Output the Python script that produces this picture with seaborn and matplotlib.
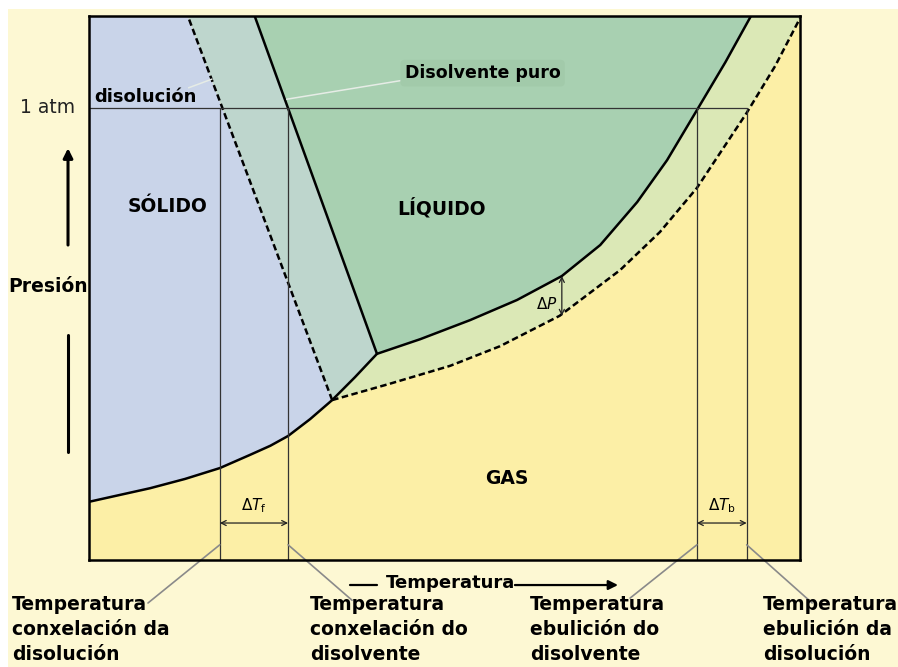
"""
Diagrama de fases: disolvente puro fronte a disolución.
"""

import matplotlib.pyplot as plt
from matplotlib.patches import Rectangle
import seaborn as sns
import numpy as np

sns.set_style("white")
plt.rcParams['font.family'] = ['DejaVu Sans']
plt.rcParams['text.color'] = 'black'

# Curvas (T e P en unidades arbitrarias, 0-100)
sub_T = [0.0, 8.6, 13.5, 18.4, 22.6, 25.5, 28.0, 31.1, 34.2, 37.4, 40.5]
sub_P = [10.7, 13.2, 14.9, 16.9, 19.3, 21.0, 22.8, 25.9, 29.4, 33.6, 37.9]
TRIPLE_DIS = 8  # punto triplo da disolución dentro de sub_*

fus_solv_T = [40.5, 23.3]
fus_solv_P = [37.9, 100.0]
fus_dis_T = [34.2, 13.9]
fus_dis_P = [29.4, 100.0]

vap_solv_T = [40.5, 46.6, 53.6, 60.2, 66.5, 71.9, 77.1, 81.3, 85.5, 89.5, 93.1]
vap_solv_P = [37.9, 40.6, 44.1, 47.8, 52.2, 57.9, 65.8, 73.5, 82.7, 91.5, 100.0]
vap_dis_T = [34.2, 42.3, 50.8, 57.8, 66.2, 74.7, 80.3, 85.5, 92.5, 96.5, 100.0]
vap_dis_P = [29.4, 32.4, 35.7, 39.3, 44.9, 53.3, 60.3, 68.4, 82.2, 90.8, 99.6]

p_atm = 83.1
t_fus = [18.4, 28.0]   # disolución, disolvente
t_ebu = [85.5, 92.5]   # disolvente, disolución
dp_T = 66.5
dp_P = [44.9, 52.2]

bottom_labels = ['Temperatura\nconxelación da\ndisolución',
                 'Temperatura\nconxelación do\ndisolvente',
                 'Temperatura\nebulición do\ndisolvente',
                 'Temperatura\nebulición da\ndisolución']

# colours
C_BG = '#fdf8d3'
C_GAS = '#fcefa6'
C_SOL = '#c9d4e9'
C_MIX = '#bed6cd'
C_LIQ = '#a8d0b1'
C_VAP = '#dbe8b6'


def poly(*parts):
    xs = np.concatenate([np.asarray(p[0], float) for p in parts])
    ys = np.concatenate([np.asarray(p[1], float) for p in parts])
    return xs, ys


fig = plt.figure(figsize=(8.98, 6.67), dpi=100)
fig.patch.set_facecolor('white')
fig.add_artist(Rectangle((0.009, 0), 1, 0.9865, transform=fig.transFigure,
                         fc=C_BG, ec='none', zorder=-10))

ax = fig.add_axes([0.0991, 0.1604, 0.7918, 0.8156])
ax.set_facecolor(C_GAS)
ax.set_xlim(0, 100)
ax.set_ylim(0, 100)
ax.set_xticks([])
ax.set_yticks([])
for s in ax.spines.values():
    s.set_linewidth(1.8)
    s.set_color('black')

k = TRIPLE_DIS
# regions
xs, ys = poly(([0], [100]), (fus_dis_T[::-1], fus_dis_P[::-1]),
              (sub_T[k::-1], sub_P[k::-1]))
ax.fill(xs, ys, color=C_SOL, lw=0)
xs, ys = poly((fus_solv_T[::-1], fus_solv_P[::-1]),
              (sub_T[:k - 1:-1], sub_P[:k - 1:-1]), (fus_dis_T, fus_dis_P))
ax.fill(xs, ys, color=C_MIX, lw=0)
xs, ys = poly((fus_solv_T[::-1], fus_solv_P[::-1]), (vap_solv_T, vap_solv_P))
ax.fill(xs, ys, color=C_LIQ, lw=0)
xs, ys = poly((vap_solv_T, vap_solv_P), ([100], [100]),
              (vap_dis_T[::-1], vap_dis_P[::-1]), (sub_T[k:], sub_P[k:]))
ax.fill(xs, ys, color=C_VAP, lw=0)

# curves
dash = (0, (2.6, 1.4))
lw = 1.8
for tt, pp in [(sub_T, sub_P), (fus_solv_T, fus_solv_P), (vap_solv_T, vap_solv_P)]:
    sns.lineplot(x=tt, y=pp, sort=False, estimator=None, color='black', lw=lw, ax=ax)
for tt, pp in [(fus_dis_T, fus_dis_P), (vap_dis_T, vap_dis_P)]:
    sns.lineplot(x=tt, y=pp, sort=False, estimator=None, color='black', lw=lw,
                 linestyle=dash, ax=ax)

# 1 atm and temperature markers
ax.plot([0, t_ebu[1]], [p_atm, p_atm], color='#333333', lw=0.9)
ax.vlines(t_fus + t_ebu, 0, p_atm, color='#333333', lw=0.9)

arr = dict(arrowstyle='<->', color='#222222', lw=0.9, shrinkA=0, shrinkB=0,
           mutation_scale=9)
ax.annotate('', xy=(t_fus[0], 6.8), xytext=(t_fus[1], 6.8), arrowprops=arr)
ax.annotate('', xy=(t_ebu[0], 6.8), xytext=(t_ebu[1], 6.8), arrowprops=arr)
ax.annotate('', xy=(dp_T, dp_P[0]), xytext=(dp_T, dp_P[1]), arrowprops=arr)
ax.text(np.mean(t_fus), 8.2, r'$\Delta T_{\rm f}$', ha='center', va='bottom', fontsize=11)
ax.text(np.mean(t_ebu), 8.2, r'$\Delta T_{\rm b}$', ha='center', va='bottom', fontsize=11)
ax.text(dp_T - 0.6, 47.0, r'$\Delta P$', ha='right', va='center', fontsize=11)

# region labels
ax.text(11.0, 64.9, 'SÓLIDO', ha='center', va='center', fontsize=13.5, fontweight='bold')
ax.text(49.6, 64.7, 'LÍQUIDO', ha='center', va='center', fontsize=13.5, fontweight='bold')
ax.text(58.8, 14.9, 'GAS', ha='center', va='center', fontsize=13.5, fontweight='bold')

ax.text(44.4, 89.5, 'Disolvente puro', ha='left', va='center', fontsize=12.5,
        fontweight='bold',
        bbox=dict(boxstyle='round,pad=0.25', fc='#a2caaa', ec='none'))
ax.plot([44.2, 27.8], [88.2, 84.7], color='#e6ece6', lw=1.1)
ax.text(0.8, 85.1, 'disolución', ha='left', va='center', fontsize=13,
        fontweight='bold')
ax.plot([14.0, 17.3], [86.8, 88.4], color='#e6ece6', lw=1.1)

# axis labels outside the frame
ax.text(-2.0, p_atm, '1 atm', ha='right', va='center', fontsize=13.5,
        color='#222222', clip_on=False)
ax.text(-0.1, 50.2, 'Presión', ha='right', va='center', fontsize=13.5,
        fontweight='bold', clip_on=False)
ax.annotate('', xy=(-2.95, 75.7), xytext=(-2.95, 57.9), annotation_clip=False,
            arrowprops=dict(arrowstyle='-|>', color='black', lw=2.2, mutation_scale=14,
                            shrinkA=0, shrinkB=0))
ax.plot([-2.95, -2.95], [41.4, 19.9], color='black', lw=2.2, clip_on=False)

ax.text(50.8, -4.2, 'Temperatura', ha='center', va='center', fontsize=13,
        fontweight='bold', clip_on=False)
ax.plot([36.7, 40.5], [-4.6, -4.6], color='black', lw=1.6, clip_on=False)
ax.annotate('', xy=(74.4, -4.6), xytext=(59.9, -4.6), annotation_clip=False,
            arrowprops=dict(arrowstyle='-|>', color='black', lw=1.6, mutation_scale=14,
                            shrinkA=0, shrinkB=0))

# bottom labels with leaders
label_T = [-10.8, 31.1, 62.0, 94.8]
leader_end = [(8.3, -7.9), (37.0, -7.4), (76.1, -7.0), (101.7, -7.9)]
for t0, txt, lx, (ex, ey) in zip(t_fus + t_ebu, bottom_labels, label_T, leader_end):
    ax.plot([t0, ex], [2.8, ey], color='#8a8a8a', lw=1.2, clip_on=False)
    ax.text(lx, -6.4, txt, ha='left', va='top', fontsize=13.5, fontweight='bold',
            linespacing=1.42, clip_on=False)

fig.savefig('out.png', dpi=100)
